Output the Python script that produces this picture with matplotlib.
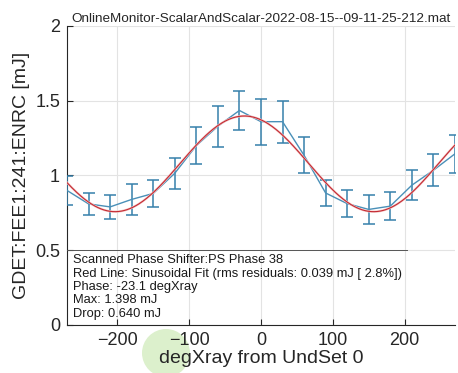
import numpy as np
import matplotlib
matplotlib.use("Agg")
import matplotlib.pyplot as plt
from matplotlib.patches import Ellipse

plt.rcParams['font.family'] = ['Liberation Sans', 'DejaVu Sans']

# scan data
phase_deg = [-270, -240, -210, -180, -150, -120, -90, -60, -30, 0,
             30, 60, 90, 120, 150, 180, 210, 240, 270]
energy = [0.90, 0.81, 0.79, 0.84, 0.88, 1.015, 1.20, 1.33, 1.435, 1.36,
          1.36, 1.135, 0.883, 0.812, 0.773, 0.795, 0.935, 1.035, 1.145]
energy_err = [0.096, 0.075, 0.078, 0.103, 0.093, 0.105, 0.122, 0.138, 0.129, 0.153,
              0.14, 0.12, 0.085, 0.09, 0.095, 0.095, 0.102, 0.108, 0.128]

# fit results, as printed on the plot
fit_phase = -23.1
fit_max = 1.398
fit_drop = 0.640

xticks = [-200, -100, 0, 100, 200]
yticks = [0, 0.5, 1, 1.5, 2]

title = "OnlineMonitor-ScalarAndScalar-2022-08-15--09-11-25-212.mat"
info_lines = [
    "Scanned Phase Shifter:PS Phase 38",
    "Red Line: Sinusoidal Fit (rms residuals: 0.039 mJ [ 2.8%])",
    "Phase: -23.1 degXray",
    "Max: 1.398 mJ",
    "Drop: 0.640 mJ",
]

fig = plt.figure(figsize=(4.58, 3.73), dpi=100)
ax = fig.add_axes([0.1463, 0.1287, 0.847, 0.8016])
ax.set_zorder(1)
ax.patch.set_alpha(0)

ax.errorbar(phase_deg, energy, yerr=energy_err, fmt='none', ecolor='#3680ab',
            elinewidth=1.1, capsize=4.5, capthick=1.1, zorder=3)
ax.plot(phase_deg, energy, color='#4a90b8', lw=1.0, zorder=4)

amp = fit_drop / 2
offset = fit_max - amp
xfit = np.linspace(phase_deg[0], phase_deg[-1], 400)
yfit = offset + amp * np.cos(np.radians(xfit - fit_phase))
ax.plot(xfit, yfit, color='#f3c4c4', lw=1.6, zorder=4.5)
ax.plot(xfit, yfit, color='#c42a32', lw=0.8, zorder=5)

ax.set_xlim(-270, 270)
ax.set_ylim(0, 2)
ax.set_xticks(xticks)
ax.set_yticks(yticks)
ax.set_yticklabels(['0', '0.5', '1', '1.5', '2'])
ax.set_xticklabels(['\u2212200', '\u2212100', '0', '100', '200'])
ax.grid(True, color='#e3e3e3', lw=0.8)
ax.set_axisbelow(True)
for s in ['top', 'right']:
    ax.spines[s].set_visible(False)
for s in ['left', 'bottom']:
    ax.spines[s].set_color('#262626')
    ax.spines[s].set_linewidth(0.8)
ax.tick_params(direction='in', length=4, width=0.8, colors='#262626',
               labelsize=13, pad=5)

ax.set_xlabel("degXray from UndSet 0", fontsize=14, color='#262626', labelpad=1)
ax.set_ylabel("GDET:FEE1:241:ENRC [mJ]", fontsize=14, color='#262626', labelpad=4)
ax.set_title(title, fontsize=9.7, color='#262626', pad=3)

# dark top edge of the info box
ax.plot([0, 0.876], [0.25, 0.25], transform=ax.transAxes, color='#555555',
        lw=0.7, zorder=6, clip_on=False)
ax.text(0.016, 0.237, "\n".join(info_lines), transform=ax.transAxes,
        fontsize=9.3, color='#1a1a1a', va='top', ha='left', linespacing=1.16,
        zorder=7)

# light green cursor highlight seen in the picture
fig.patches.append(Ellipse((166 / 458, 1 - 353 / 373), 48 / 458, 48 / 373,
                           transform=fig.transFigure, facecolor='#dcf0cc',
                           edgecolor='none', zorder=0))

fig.savefig("out.png", dpi=100)
